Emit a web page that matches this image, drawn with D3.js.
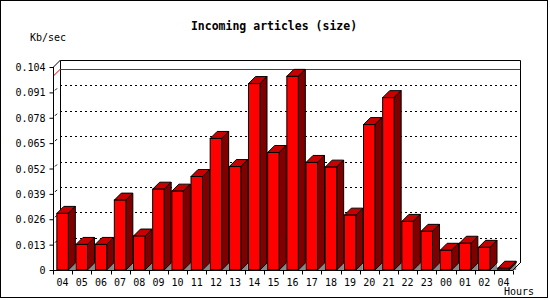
<html>
<head>
<script src="https://cdnjs.cloudflare.com/ajax/libs/d3/7.8.5/d3.min.js"></script>
<style>
body { margin: 0; background: #fff; }
text { font-family: "DejaVu Sans Mono", monospace; }
</style>
</head>
<body>
<div id="chart"></div>
<script>
// data
var hours = ["04","05","06","07","08","09","10","11","12","13","14","15","16","17","18","19","20","21","22","23","00","01","02","04"]
var kbsec = [0.0290,0.0131,0.0131,0.0358,0.0174,0.0414,0.0404,0.0479,0.0674,0.0530,0.0955,0.0602,0.0992,0.0551,0.0527,0.0281,0.0745,0.0883,0.0249,0.0198,0.0101,0.0137,0.0116,0.0009]
var yTicks = [0,0.013,0.026,0.039,0.052,0.065,0.078,0.091,0.104]

var width = 550, height = 300
// note: "top" is taken by window.top, so use pl/pr/pt/pb
var pl = 53, pr = 513, pt = 67, pb = 270
var depth = 7

var svg = d3.select("#chart").append("svg")
  .attr("width", width).attr("height", height)

// outer frame
svg.append("rect").attr("x",0.5).attr("y",0.5).attr("width",547).attr("height",297)
  .attr("fill","none").attr("stroke","#000")

var x = d3.scaleBand().domain(d3.range(hours.length)).range([pl,pr]).paddingInner(0.4).paddingOuter(0.2)
var xb = d3.scaleBand().domain(d3.range(hours.length)).range([pl,pr])
var y = d3.scaleLinear().domain([0,0.104]).range([pb,pt])

// back plane frame
svg.append("path")
  .attr("d","M"+(pl+depth+0.5)+","+(pb-depth)+"V"+(pt-depth+0.5)+"H"+(pr+depth+0.5)+"V"+(pb-depth))
  .attr("fill","none").attr("stroke","#000")

// grid on back plane
svg.selectAll(".grid").data(yTicks.slice(1,-1)).enter().append("line")
  .attr("x1",pl+depth).attr("x2",pr+depth)
  .attr("y1",function(d){return Math.round(y(d))-depth+0.5})
  .attr("y2",function(d){return Math.round(y(d))-depth+0.5})
  .attr("stroke","#000").attr("stroke-dasharray","2,3")
svg.selectAll(".gdiag").data(yTicks.slice(1,-1)).enter().append("line")
  .attr("x1",pl+2).attr("x2",pl+4)
  .attr("y1",function(d){return y(d)-2}).attr("y2",function(d){return y(d)-4})
  .attr("stroke","#000")

// max line
var maxV = d3.max(kbsec)
svg.append("path")
  .attr("d","M"+pl+","+y(maxV)+"L"+(pl+depth)+","+(Math.round(y(maxV))-depth+0.5)+"H"+(pr+depth))
  .attr("fill","none").attr("stroke","#e00000")

// bars
var bars = svg.selectAll(".bar").data(kbsec).enter().append("g")
bars.append("path")
  .attr("d",function(d,i){var x1=x(i)+x.bandwidth(); return "M"+x1+","+pb+"L"+(x1+depth)+","+(pb-depth)+"V"+pb+"Z"})
  .attr("fill","#888")
bars.append("path")
  .attr("d",function(d,i){var x0=x(i),x1=x0+x.bandwidth(),t=y(d)
    return "M"+x0+","+t+"L"+(x0+depth)+","+(t-depth)+"H"+(x1+depth)+"L"+x1+","+t+"Z"})
  .attr("fill","#c80000").attr("stroke","#000")
bars.append("path")
  .attr("d",function(d,i){var x1=x(i)+x.bandwidth(),t=y(d)
    return "M"+x1+","+t+"L"+(x1+depth)+","+(t-depth)+"V"+(pb-depth)+"L"+x1+","+pb+"Z"})
  .attr("fill","#800000").attr("stroke","#000")
bars.append("rect")
  .attr("x",function(d,i){return x(i)}).attr("y",function(d){return y(d)})
  .attr("width",x.bandwidth()).attr("height",function(d){return pb-y(d)})
  .attr("fill","#ff0000").attr("stroke","#000")

// floor edge
svg.append("line").attr("x1",pr).attr("y1",pb).attr("x2",pr+depth).attr("y2",pb-depth).attr("stroke","#000")

// y axis
var yAxis = d3.axisLeft(y).tickValues(yTicks).tickSize(4).tickPadding(4)
  .tickFormat(function(d){return d==0 ? "0" : d3.format(".3f")(d)})
var gy = svg.append("g").attr("transform","translate("+(pl+0.5)+",0)").call(yAxis)
gy.select(".domain").attr("d","M0,"+(pb+0.5)+"V"+pt+"l"+depth+","+(-depth))
gy.selectAll("text").attr("font-size","10px").attr("font-family","DejaVu Sans Mono").attr("fill","#000").attr("dy","0.35em")

// x axis
var xAxis = d3.axisBottom(xb).tickSize(0).tickPadding(8).tickFormat(function(i){return hours[i]})
var gx = svg.append("g").attr("transform","translate(0,"+(pb+0.5)+")").call(xAxis)
gx.select(".domain").attr("d","M"+pl+",0H"+pr)
gx.selectAll("text").attr("font-size","10px").attr("font-family","DejaVu Sans Mono").attr("fill","#000")
gx.selectAll(".btick").data(d3.range(hours.length+1)).enter().append("line")
  .attr("x1",function(i){return Math.round(pl+i*xb.step())+0.5})
  .attr("x2",function(i){return Math.round(pl+i*xb.step())+0.5})
  .attr("y1",0).attr("y2",4).attr("stroke","#000")

// texts
svg.append("text").attr("x",274).attr("y",30).attr("text-anchor","middle")
  .attr("font-size","11.5px").attr("font-weight","bold").text("Incoming articles (size)")
svg.append("text").attr("x",30).attr("y",41).attr("font-size","10px").text("Kb/sec")
svg.append("text").attr("x",534).attr("y",295).attr("text-anchor","end").attr("font-size","10px").text("Hours")
</script>
</body>
</html>
